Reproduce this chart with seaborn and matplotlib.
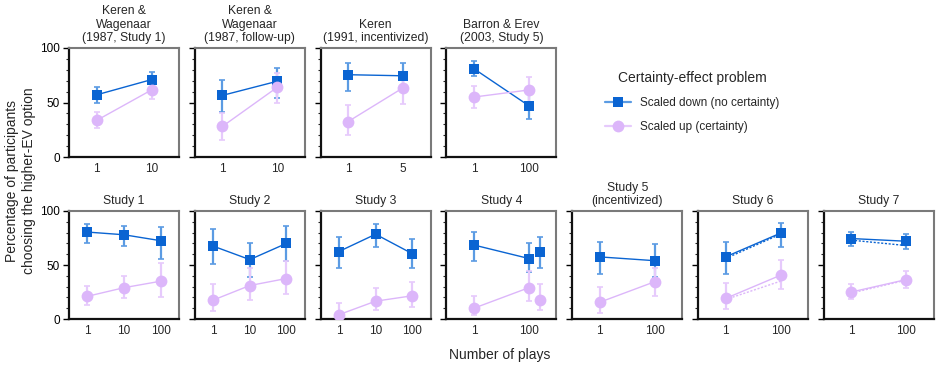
import numpy as np
import pandas as pd
import matplotlib
matplotlib.use("Agg")
import matplotlib.pyplot as plt
from matplotlib.lines import Line2D
from matplotlib.ticker import MultipleLocator
import seaborn as sns

# ---- data (percent choosing higher-EV option, with interval bounds) ----
top_titles = ["Keren &\nWagenaar\n(1987, Study 1)", "Keren &\nWagenaar\n(1987, follow-up)",
              "Keren\n(1991, incentivized)", "Barron & Erev\n(2003, Study 5)"]
top_plays = [["1", "10"], ["1", "10"], ["1", "5"], ["1", "100"]]
top_down = [[57, 71], [56.5, 69.5], [75.5, 74.5], [81, 47]]
top_down_lo = [[50, 64], [41, 54], [61, 60.5], [74, 35]]
top_down_hi = [[64, 78], [71, 82], [86.5, 86], [88, 58]]
top_up = [[33.5, 61.5], [28, 64], [32.5, 63.5], [55, 61.5]]
top_up_lo = [[27, 53], [16, 50], [20, 49], [44.5, 50]]
top_up_hi = [[41, 69], [40, 77], [47.5, 75], [65, 73]]

bot_titles = ["Study 1", "Study 2", "Study 3", "Study 4", "Study 5\n(incentivized)", "Study 6", "Study 7"]
bot_plays = [["1", "10", "100"], ["1", "10", "100"], ["1", "10", "100"], ["1", "100"],
             ["1", "100"], ["1", "100"], ["1", "100"]]
bot_down = [[80.5, 78, 72.5], [67.5, 55, 70], [62.5, 78.5, 60.5], [68.5, 56],
            [57.5, 54], [57.5, 79.5], [74.5, 72]]
bot_down_lo = [[70.5, 68, 56], [51, 38.5, 53.5], [47, 66.5, 47], [54, 43.5],
               [42, 39], [42, 66.5], [67.5, 64.5]]
bot_down_hi = [[88, 86.5, 85], [83, 70.5, 86.5], [76, 88, 74], [81, 70.5],
               [71.5, 69.5], [71.5, 89], [81, 78.5]]
bot_up = [[21, 29, 35], [17.5, 31, 37.5], [4, 16.5, 21.5], [10, 29],
          [15.5, 34.5], [19, 40.5], [25, 36.5]]
bot_up_lo = [[13, 19.5, 20.5], [7.5, 18, 23], [0, 8, 11.5], [3.5, 16.5],
             [6, 21.5], [9, 27.5], [18.5, 29]]
bot_up_hi = [[31, 40, 51.5], [32.5, 47, 53.5], [14.5, 28.5, 34.5], [21.5, 44],
             [29.5, 47], [33, 54.5], [32, 44]]

# Study 4 extra (unconnected) condition beside 100 plays: mean, lo, hi
study4_extra_down = [62, 47, 76]
study4_extra_up = [17.5, 8, 32]

# Studies 6 and 7 second set (dotted lines)
dotted_down = {5: [56, 78.5], 6: [73, 68]}
dotted_up = {5: [18, 35], 6: [24, 36]}

BLUE = "#0a64d2"
BLUE_ERR = "#5b9be3"
PINK = "#dcb6fa"
PINK_ERR = "#e6cafc"

sns.set_theme(style="white")
plt.rcParams["font.family"] = ["Liberation Sans", "DejaVu Sans"]

fig = plt.figure(figsize=(9.36, 3.65), dpi=100)
W, H = 936.0, 365.0


def style_axes(ax, plays, first):
    n = len(plays)
    ax.set_ylim(0, 100)
    ax.set_xlim(-0.5, n - 0.5)
    ax.set_yticks([0, 50, 100])
    ax.yaxis.set_minor_locator(MultipleLocator(10))
    ax.set_xticks(range(n))
    ax.set_xticklabels(plays)
    ax.tick_params(axis="y", which="major", direction="out", length=4, width=1,
                   left=True, labelsize=8.5, pad=2.5, colors="black")
    ax.tick_params(axis="y", which="minor", direction="out", length=2.5, width=0.8, left=True)
    ax.tick_params(axis="x", length=0, labelsize=8.5, pad=4)
    if not first:
        ax.tick_params(axis="y", labelleft=False)
    for s in ["left", "bottom"]:
        ax.spines[s].set_color("#111111")
        ax.spines[s].set_linewidth(1.6)
    for s in ["top", "right"]:
        ax.spines[s].set_color("#7a7a7a")
        ax.spines[s].set_linewidth(1.5)
    ax.set_xlabel("")
    ax.set_ylabel("")


def draw_series(ax, mean, lo, hi, color, ecolor, marker, ms):
    x = np.arange(len(mean))
    mean = np.array(mean, float)
    err = [mean - np.array(lo), np.array(hi) - mean]
    ax.errorbar(x, mean, yerr=err, fmt="none", ecolor=ecolor, elinewidth=1.6,
                capsize=2, capthick=1.2, zorder=2)
    df = pd.DataFrame({"pos": x, "pct": mean})
    sns.lineplot(data=df, x="pos", y="pct", ax=ax, color=color, linewidth=1,
                 marker=marker, markersize=ms, markeredgewidth=0, zorder=3)


def draw_panel(ax, plays, dm, dlo, dhi, um, ulo, uhi, title, first):
    draw_series(ax, dm, dlo, dhi, BLUE, BLUE_ERR, "s", 7)
    draw_series(ax, um, ulo, uhi, PINK, PINK_ERR, "o", 8.5)
    ax.set_title(title, fontsize=8.7, pad=5, linespacing=1.15)
    style_axes(ax, plays, first)


panel_w = 110.0
panel_step = 125.8
left0 = 69.0

for i in range(len(top_titles)):
    ax = fig.add_axes([(left0 + i * panel_step) / W, (H - 157) / H, panel_w / W, 109 / H])
    draw_panel(ax, top_plays[i], top_down[i], top_down_lo[i], top_down_hi[i],
               top_up[i], top_up_lo[i], top_up_hi[i], top_titles[i], i == 0)

for i in range(len(bot_titles)):
    ax = fig.add_axes([(left0 + i * panel_step) / W, (H - 319) / H, panel_w / W, 108 / H])
    draw_panel(ax, bot_plays[i], bot_down[i], bot_down_lo[i], bot_down_hi[i],
               bot_up[i], bot_up_lo[i], bot_up_hi[i], bot_titles[i], i == 0)
    if i == 3:
        xe = 1.2
        for vals, c, ec, mk, ms in [(study4_extra_down, BLUE, BLUE_ERR, "s", 7),
                                    (study4_extra_up, PINK, PINK_ERR, "o", 8.5)]:
            m, lo, hi = vals
            ax.errorbar([xe], [m], yerr=[[m - lo], [hi - m]], fmt="none", ecolor=ec,
                        elinewidth=1.6, capsize=2, capthick=1.2, zorder=2)
            ax.plot([xe], [m], marker=mk, ms=ms, color=c, mew=0, ls="none", zorder=3)
    if i in dotted_down:
        ax.plot(range(2), dotted_down[i], color=BLUE, lw=1, ls=(0, (1.5, 1.2)), zorder=2.5)
        ax.plot(range(2), dotted_up[i], color=PINK, lw=1, ls=(0, (1.5, 1.2)), zorder=2.5)

fig.text(0.022, 0.505, "Percentage of participants\nchoosing the higher-EV option",
         rotation=90, ha="center", va="center", fontsize=10, linespacing=1.2)
fig.text(0.534, 0.028, "Number of plays", ha="center", va="center", fontsize=10)

handles = [
    Line2D([0], [0], color=BLUE_ERR, lw=1.6, marker="s", markerfacecolor=BLUE,
           markeredgewidth=0, markersize=7),
    Line2D([0], [0], color=PINK_ERR, lw=1.6, marker="o", markerfacecolor=PINK,
           markeredgewidth=0, markersize=8.5),
]
leg = fig.legend(handles, ["Scaled down (no certainty)", "Scaled up (certainty)"],
                 title="Certainty-effect problem", loc="center",
                 bbox_to_anchor=(692 / W, 1 - 102 / H), frameon=False, fontsize=8.5,
                 title_fontsize=10, handlelength=2.2, handletextpad=0.8, labelspacing=1.0)

fig.savefig("out.png", dpi=100)
